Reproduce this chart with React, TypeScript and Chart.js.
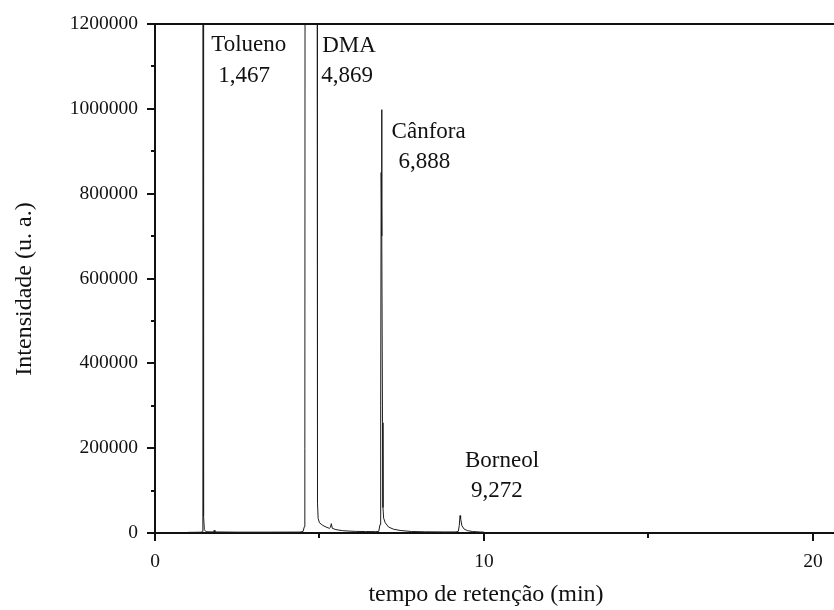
import React, { useEffect, useRef } from "react";
import { Chart, registerables } from "chart.js";

Chart.register(...registerables);

// Chromatogram trace: retention time (min) and detector intensity (a.u.)
const retentionTimes = [
  1.0, 1.3, 1.4, 1.445, 1.455, 1.462, 1.467, 1.472, 1.476, 1.48, 1.486, 1.5, 1.55,
  1.78, 1.8, 1.82, 2.5, 3.5,
  4.4, 4.5, 4.54, 4.555, 4.565, 4.62, 4.869, 4.9, 4.925, 4.935, 4.945, 4.96,
  5.0, 5.1, 5.2, 5.3, 5.33, 5.36, 5.39, 5.5, 5.7, 5.9, 6.1, 6.4, 6.7,
  6.8, 6.84, 6.86, 6.875, 6.888, 6.9, 6.915, 6.93, 6.95, 7.0, 7.1, 7.25, 7.45, 7.8,
  8.2, 8.8, 9.15, 9.22, 9.25, 9.272, 9.29, 9.33, 9.4, 9.5, 9.65, 9.85, 10.0,
];
const intensities = [
  1500, 1800, 2000, 3000, 40000, 2000000, 2600000, 1600000, 760000, 230000, 40000, 8000, 3000,
  2500, 6500, 2500, 2000, 2000,
  2200, 3500, 15000, 200000, 2000000, 4000000, 5500000, 4000000, 1800000, 300000, 70000, 34000,
  24000, 18000, 14000, 11000, 13000, 22000, 11000, 8000, 5500, 4500, 3800, 3400, 3200,
  3500, 20000, 300000, 850000, 998000, 700000, 260000, 60000, 35000, 24000, 14000, 9000, 6000, 3500,
  2800, 2500, 2500, 4000, 18000, 41000, 34000, 17000, 9000, 5500, 3500, 2500, 2000,
];

// Axis ticks (major ticks carry labels, minor ticks are blank)
const xTickValues = [0, 5, 10, 15, 20];
const xTickLabels = ["0", "", "10", "", "20"];
const yTickValues = [0, 100000, 200000, 300000, 400000, 500000, 600000, 700000, 800000, 900000, 1000000, 1100000, 1200000];
const yTickLabels = ["0", "", "200000", "", "400000", "", "600000", "", "800000", "", "1000000", "", "1200000"];

// Identified compounds and their retention times
const peakNames = ["Tolueno", "DMA", "Cânfora", "Borneol"];
const peakTimes = [1.467, 4.869, 6.888, 9.272];
const peakTimeLabels = ["1,467", "4,869", "6,888", "9,272"];

const xTitle = "tempo de retenção (min)";
const yTitle = "Intensidade (u. a.)";

// Placement of the peak annotations: horizontal offset (px) from the peak,
// and baseline height expressed in intensity units
const annotationLayout = [
  { nameDx: 8, numDx: 15, nameY: 1136000, numY: 1063000 },
  { nameDx: 7, numDx: 6, nameY: 1134000, numY: 1063000 },
  { nameDx: 10, numDx: 17, nameY: 931000, numY: 860000 },
  { nameDx: 5, numDx: 11, nameY: 155600, numY: 84900 },
];

const SERIF = '"Liberation Serif", "Times New Roman", serif';
const INK = "#111";

const decorPlugin = {
  id: "chromDecor",
  afterDraw(chart: any) {
    const { ctx, chartArea, scales } = chart;
    const xs = scales.x;
    const ys = scales.y;
    ctx.save();

    // top frame line
    ctx.strokeStyle = INK;
    ctx.lineWidth = 2;
    ctx.beginPath();
    ctx.moveTo(chartArea.left - 1, chartArea.top);
    ctx.lineTo(chart.width, chartArea.top);
    ctx.stroke();

    // tick marks: long for labelled ticks, short for the blank ones
    xTickValues.forEach((v, i) => {
      const px = Math.round(xs.getPixelForValue(v));
      const len = xTickLabels[i] ? 8 : 5;
      ctx.beginPath();
      ctx.moveTo(px, chartArea.bottom);
      ctx.lineTo(px, chartArea.bottom + len);
      ctx.stroke();
    });
    yTickValues.forEach((v, i) => {
      const py = Math.round(ys.getPixelForValue(v));
      const len = yTickLabels[i] ? 8 : 4;
      ctx.beginPath();
      ctx.moveTo(chartArea.left, py);
      ctx.lineTo(chartArea.left - len, py);
      ctx.stroke();
    });

    // peak annotations
    ctx.fillStyle = INK;
    ctx.font = `23px ${SERIF}`;
    ctx.textAlign = "left";
    ctx.textBaseline = "alphabetic";
    peakNames.forEach((name, i) => {
      const lay = annotationLayout[i];
      const px = xs.getPixelForValue(peakTimes[i]);
      ctx.fillText(name, px + lay.nameDx, ys.getPixelForValue(lay.nameY));
      ctx.fillText(peakTimeLabels[i], px + lay.numDx, ys.getPixelForValue(lay.numY));
    });

    // axis titles
    ctx.font = `24px ${SERIF}`;
    ctx.textAlign = "center";
    ctx.fillText(xTitle, 486, 601);
    ctx.save();
    ctx.translate(31, 289);
    ctx.rotate(-Math.PI / 2);
    ctx.font = `24px ${SERIF}`;
    ctx.fillText(yTitle, 0, 0);
    ctx.restore();

    ctx.restore();
  },
};

export default function App() {
  const canvasRef = useRef<HTMLCanvasElement | null>(null);

  useEffect(() => {
    if (!canvasRef.current) return;
    const chart = new Chart(canvasRef.current, {
      type: "line",
      data: {
        datasets: [
          {
            data: retentionTimes.map((t, i) => ({ x: t, y: intensities[i] })),
            borderColor: "#1c1c1c",
            borderWidth: 1,
            pointRadius: 0,
            tension: 0,
            fill: false,
          },
        ],
      },
      options: {
        responsive: false,
        animation: false,
        layout: { padding: { top: 24, right: 0, left: 0, bottom: 0 } },
        plugins: {
          legend: { display: false },
          tooltip: { enabled: false },
        },
        scales: {
          x: {
            type: "linear",
            min: 0,
            max: 20.64,
            afterBuildTicks: (scale: any) => {
              scale.ticks = xTickValues.map((value) => ({ value }));
            },
            afterFit: (scale: any) => {
              scale.height = 77;
            },
            ticks: {
              autoSkip: false,
              maxRotation: 0,
              padding: 9,
              color: INK,
              font: { family: SERIF, size: 19.5 },
              callback: (v: any) => {
                const idx = xTickValues.indexOf(Number(v));
                return idx >= 0 ? xTickLabels[idx] : "";
              },
            },
            grid: { display: true, drawOnChartArea: false, drawTicks: true, tickLength: 8, tickColor: "rgba(0,0,0,0)" },
            border: { display: true, color: INK, width: 2 },
          },
          y: {
            type: "linear",
            min: 0,
            max: 1200000,
            afterBuildTicks: (scale: any) => {
              scale.ticks = yTickValues.map((value) => ({ value }));
            },
            afterFit: (scale: any) => {
              scale.width = 155;
            },
            ticks: {
              autoSkip: false,
              padding: 9,
              color: INK,
              font: { family: SERIF, size: 19.5 },
              callback: (v: any) => {
                const idx = yTickValues.indexOf(Number(v));
                return idx >= 0 ? yTickLabels[idx] : "";
              },
            },
            grid: { display: true, drawOnChartArea: false, drawTicks: true, tickLength: 8, tickColor: "rgba(0,0,0,0)" },
            border: { display: true, color: INK, width: 2 },
          },
        },
      },
      plugins: [decorPlugin],
    });
    return () => chart.destroy();
  }, []);

  return (
    <div style={{ position: "fixed", left: 0, top: 0, width: 834, height: 610, background: "#fff" }}>
      <canvas ref={canvasRef} width={834} height={610} />
    </div>
  );
}
